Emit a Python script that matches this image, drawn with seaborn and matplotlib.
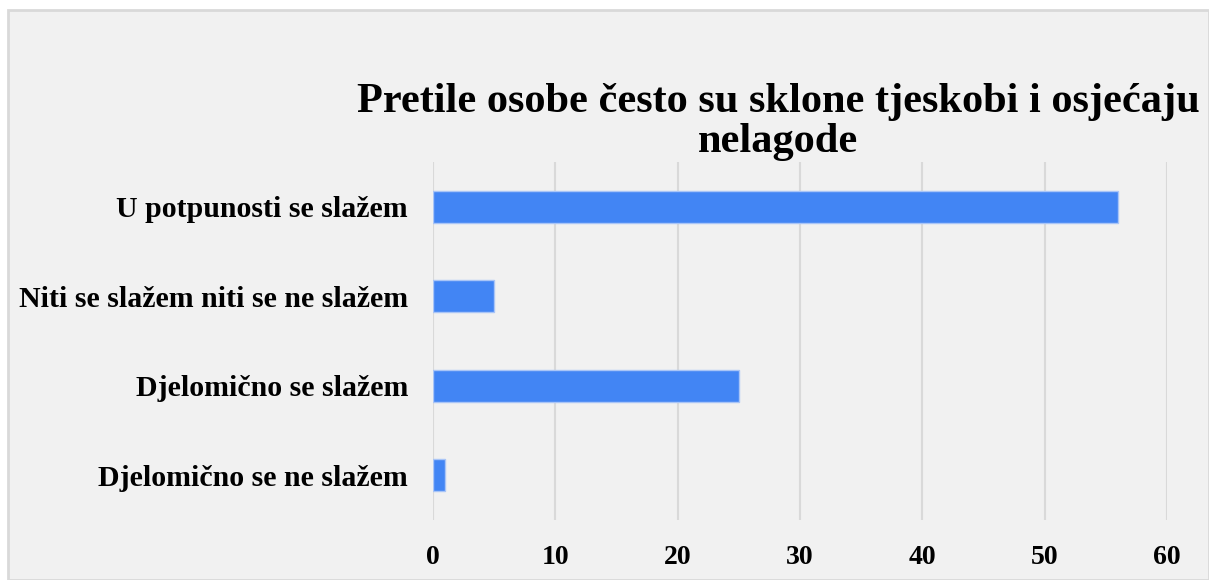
import matplotlib
matplotlib.use("Agg")
import matplotlib.pyplot as plt
import seaborn as sns
from matplotlib.patches import Rectangle

# data
categories = ["U potpunosti se slažem", "Niti se slažem niti se ne slažem",
              "Djelomično se slažem", "Djelomično se ne slažem"]
values = [56, 5, 25, 1]
x_ticks = [0, 10, 20, 30, 40, 50, 60]
title = "Pretile osobe često su sklone tjeskobi i osjećaju\nnelagode"

sns.set_style("white")
plt.rcParams['font.family'] = ['Liberation Serif', 'DejaVu Serif']

fig = plt.figure(figsize=(12.09, 5.8), dpi=100, facecolor="white")
# grey panel with thin border (starts a little in from top/left)
fig.patches.append(Rectangle((8 / 1209, 0), 1 - 8 / 1209, 1 - 10 / 580,
                             transform=fig.transFigure, facecolor="#f1f1f1",
                             edgecolor="#d9d9d9", linewidth=2, zorder=-10))

ax = fig.add_axes([433 / 1209, 1 - 520 / 580, (1167 - 433) / 1209, (520 - 162) / 580])
ax.set_facecolor("none")

sns.barplot(x=values, y=categories, orient="h", color="#4285f4", saturation=1,
            width=0.36, edgecolor="#a9c5f7", linewidth=1, ax=ax)

ax.set_xlim(0, 60)
ax.set_ylim(3.5, -0.5)
ax.set_xticks(x_ticks)
ax.xaxis.grid(True, color="#d9d9d9", linewidth=1.5)
ax.set_axisbelow(True)
for s in ax.spines.values():
    s.set_visible(False)
ax.tick_params(axis="both", length=0, labelcolor="black")
ax.tick_params(axis="y", pad=18, labelsize=21.5)
ax.tick_params(axis="x", pad=18, labelsize=20)
for lab in ax.get_xticklabels() + ax.get_yticklabels():
    lab.set_fontweight("bold")
ax.set_xlabel("")
ax.set_ylabel("")

fig.text(778 / 1209, 1 - 122 / 580, title, ha="center", va="center",
         fontsize=30.5, fontweight="bold", linespacing=1.05, color="black")

fig.savefig("out.png", dpi=100, facecolor="white")
